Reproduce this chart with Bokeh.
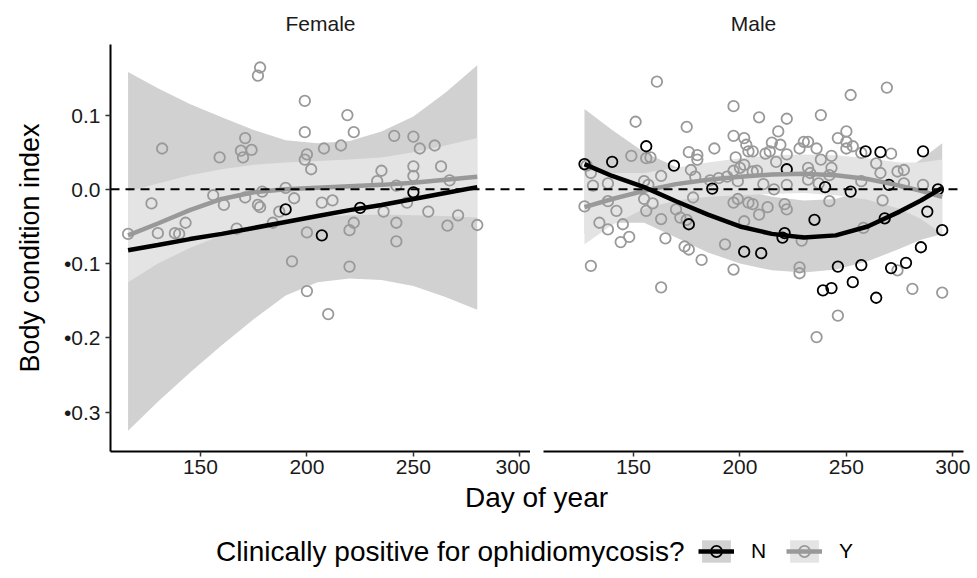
from bokeh.plotting import figure
from bokeh.models import Range1d, FixedTicker, Span, Label, Legend, LegendItem, ColumnDataSource
from bokeh.layouts import column, row
from bokeh.embed import file_html
from bokeh.resources import INLINE

# ---------------- data ----------------
# Female, clinically positive = N (black)
f_n_day = [190, 207, 225, 250]
f_n_bci = [-0.027, -0.062, -0.025, -0.004]
# Female, clinically positive = Y (grey)
f_y_day = [116, 127, 130, 132, 138, 140, 143, 156, 159, 161, 167, 169, 170, 171, 171, 174,
           177, 178, 177, 178, 179, 184, 187, 190, 193, 194, 199, 199, 199, 200, 200, 200,
           202, 207, 208, 210, 212, 216, 219, 220, 220, 222, 222, 233, 235, 236, 241, 242,
           242, 242, 247, 250, 250, 250, 253, 257, 260, 263, 266, 267, 271, 280]
f_y_bci = [-0.060, -0.019, -0.059, 0.055, -0.059, -0.060, -0.045, -0.008, 0.043, -0.021, -0.053,
           0.052, 0.043, 0.069, -0.011, 0.053, 0.153, 0.164, -0.021, -0.024, -0.003, -0.045,
           -0.030, 0.002, -0.097, -0.012, 0.119, 0.077, 0.040, 0.047, -0.058, -0.137, 0.027,
           -0.018, 0.055, -0.168, -0.015, 0.059, 0.100, -0.055, -0.104, 0.077, -0.045, 0.011,
           0.025, -0.030, 0.072, 0.005, -0.045, -0.070, -0.018, 0.071, 0.031, 0.018, 0.055,
           -0.030, 0.059, 0.031, -0.049, 0.012, -0.035, -0.048]

# Male, N (black)
m_n_day = [127, 140, 156, 169, 176, 187, 202, 210, 220, 221, 222, 235, 239, 240, 243, 246,
           252, 253, 257, 259, 264, 266, 268, 270, 271, 278, 285, 286, 288, 293, 295]
m_n_bci = [0.034, 0.037, 0.058, 0.032, -0.047, 0.001, -0.084, -0.086, -0.065, -0.059, 0.027,
           -0.041, -0.136, 0.003, -0.133, -0.104, -0.003, -0.125, -0.102, 0.051, -0.146, 0.050,
           -0.039, 0.006, -0.106, -0.099, -0.078, 0.051, -0.030, 0.000, -0.055]
# Male, Y (grey)
m_y_day = [161, 197, 151, 175, 197, 202, 203, 204, 188, 176, 180, 180, 149, 156, 158, 128,
           198, 202, 197, 200, 177, 163, 130, 179, 155, 157, 138, 131, 186, 190, 194, 199,
           178, 155, 159, 138, 127, 142, 156, 170, 172, 175, 163, 197, 199, 204, 202, 134,
           145, 138, 148, 144, 165, 174, 176, 193, 182, 130, 197, 163,
           269, 252, 209, 222, 238, 218, 215, 219, 206, 212, 214, 222, 230, 232, 228, 236,
           243, 238, 246, 250, 250, 250, 253, 257, 271, 217, 208, 206, 232, 233, 243, 242,
           264, 266, 274, 277, 211, 216, 222, 232, 237, 257, 277, 286, 242, 267, 206, 209,
           213, 221, 222, 258, 229, 274, 228, 228, 281, 295, 246, 236]
m_y_bci = [0.145, 0.112, 0.091, 0.084, 0.072, 0.069, 0.060, 0.051, 0.055, 0.050, 0.046, 0.040,
           0.045, 0.042, 0.043, 0.032, 0.043, 0.033, 0.025, 0.029, 0.026, 0.018, 0.022, 0.017,
           0.011, 0.006, 0.008, 0.005, 0.012, 0.015, 0.017, 0.011, -0.011, -0.013, -0.019,
           -0.016, -0.023, -0.029, -0.029, -0.027, -0.038, -0.041, -0.040, -0.018, -0.013,
           -0.018, -0.043, -0.045, -0.047, -0.054, -0.064, -0.071, -0.066, -0.077, -0.081,
           -0.074, -0.095, -0.103, -0.108, -0.132,
           0.137, 0.127, 0.097, 0.095, 0.100, 0.078, 0.063, 0.060, 0.051, 0.048, 0.051, 0.047,
           0.064, 0.064, 0.055, 0.055, 0.045, 0.040, 0.069, 0.078, 0.064, 0.055, 0.058, 0.049,
           0.048, 0.037, 0.025, 0.024, 0.029, 0.022, 0.029, 0.019, 0.035, 0.022, 0.024, 0.026,
           0.007, 0.000, 0.006, 0.013, 0.008, 0.011, 0.008, 0.006, -0.016, -0.015, -0.020,
           -0.034, -0.024, -0.020, -0.027, -0.052, -0.069, -0.109, -0.105, -0.113, -0.134,
           -0.139, -0.170, -0.199]

# Smoothed fits with confidence bands
sm_f_day = [116, 130, 145, 160, 175, 190, 205, 220, 235, 250, 265, 280]
sm_f_n_fit = [-0.082, -0.075, -0.067, -0.060, -0.052, -0.044, -0.036, -0.028, -0.021, -0.013, -0.005, 0.003]
sm_f_n_hi = [0.158, 0.136, 0.115, 0.097, 0.080, 0.066, 0.062, 0.065, 0.078, 0.098, 0.130, 0.167]
sm_f_n_lo = [-0.325, -0.286, -0.247, -0.210, -0.175, -0.143, -0.125, -0.120, -0.122, -0.130, -0.145, -0.162]
sm_f_y_fit = [-0.062, -0.046, -0.028, -0.013, -0.004, 0.000, 0.002, 0.004, 0.006, 0.009, 0.013, 0.017]
sm_f_y_hi = [-0.003, 0.008, 0.019, 0.027, 0.033, 0.036, 0.038, 0.040, 0.043, 0.050, 0.059, 0.069]
sm_f_y_lo = [-0.125, -0.100, -0.079, -0.062, -0.050, -0.042, -0.037, -0.035, -0.034, -0.035, -0.036, -0.038]

sm_m_day = [127, 140, 155, 170, 185, 200, 215, 230, 245, 260, 275, 285, 295]
sm_m_n_fit = [0.034, 0.018, 0.003, -0.016, -0.034, -0.050, -0.060, -0.065, -0.062, -0.050, -0.030, -0.015, 0.002]
sm_m_n_hi = [0.108, 0.080, 0.050, 0.030, 0.013, 0.000, -0.010, -0.015, -0.013, 0.000, 0.022, 0.040, 0.062]
sm_m_n_lo = [-0.060, -0.045, -0.045, -0.065, -0.085, -0.100, -0.109, -0.112, -0.108, -0.097, -0.080, -0.068, -0.060]
sm_m_y_fit = [-0.024, -0.013, -0.002, 0.007, 0.013, 0.017, 0.020, 0.021, 0.019, 0.014, 0.005, -0.002, -0.010]
sm_m_y_hi = [0.026, 0.022, 0.022, 0.029, 0.036, 0.042, 0.046, 0.047, 0.046, 0.042, 0.036, 0.036, 0.040]
sm_m_y_lo = [-0.074, -0.048, -0.026, -0.015, -0.010, -0.008, -0.006, -0.005, -0.008, -0.014, -0.026, -0.040, -0.060]

x_ticks = [150, 200, 250, 300]
y_ticks = [0.1, 0.0, -0.1, -0.2, -0.3]
y_tick_labels = ["0.1", "0.0", "\u20220.1", "\u20220.2", "\u20220.3"]
panels = ["Female", "Male"]
groups = ["N", "Y"]

# ---------------- styling ----------------
FONT = "Liberation Sans"
N_RIB = "#d1d1d1"
Y_RIB = "#e4e4e4"
GREY = "#999999"
X_RANGE = (107.75, 305.0)
Y_RANGE = (-0.353, 0.195)
TOP_H = 483
PT_SIZE = 10.5


def make_panel(title, width, left, right):
    p = figure(width=width, height=TOP_H, x_range=Range1d(*X_RANGE), y_range=Range1d(*Y_RANGE),
               output_backend="svg", toolbar_location=None, title=title,
               min_border_left=left, min_border_right=right, min_border_top=43,
               min_border_bottom=32)
    p.title.align = "center"
    p.title.text_font = FONT
    p.title.text_font_size = "21px"
    p.title.text_font_style = "normal"
    p.title.text_color = "#1a1a1a"
    p.title.standoff = 19
    p.xgrid.visible = False
    p.ygrid.visible = False
    p.outline_line_color = None
    p.background_fill_color = "white"
    p.border_fill_color = "white"
    for ax in (p.xaxis[0], p.yaxis[0]):
        ax.axis_line_color = "black"
        ax.axis_line_width = 2
        ax.major_tick_line_color = "#333333"
        ax.major_tick_line_width = 1.5
        ax.major_tick_in = 0
        ax.major_tick_out = 5
        ax.minor_tick_line_color = None
        ax.major_label_text_font = FONT
        ax.major_label_text_font_size = "21px"
        ax.major_label_text_color = "#1a1a1a"
    p.xaxis.ticker = FixedTicker(ticks=x_ticks)
    p.xaxis.major_label_standoff = 3
    p.yaxis.ticker = FixedTicker(ticks=y_ticks)
    p.yaxis.major_label_overrides = {t: l for t, l in zip(y_ticks, y_tick_labels)}
    p.yaxis.major_label_standoff = 5
    return p


def draw(p, sd, n_fit, n_lo, n_hi, y_fit, y_lo, y_hi, nd, nv, yd, yv):
    p.varea(x=sd, y1=n_lo, y2=n_hi, fill_color=N_RIB, fill_alpha=1)
    p.varea(x=sd, y1=y_lo, y2=y_hi, fill_color=Y_RIB, fill_alpha=1)
    p.add_layout(Span(location=0, dimension="width", line_color="black",
                      line_width=2, line_dash="9 6"))
    p.scatter(yd, yv, marker="circle", size=PT_SIZE, fill_color=None, line_color=GREY, line_width=1.8)
    p.scatter(nd, nv, marker="circle", size=PT_SIZE, fill_color=None, line_color="black", line_width=1.8)
    p.line(sd, y_fit, line_color=GREY, line_width=4.5)
    p.line(sd, n_fit, line_color="black", line_width=4.5)


pF = make_panel(panels[0], 530, 110, 0)
draw(pF, sm_f_day, sm_f_n_fit, sm_f_n_lo, sm_f_n_hi, sm_f_y_fit, sm_f_y_lo, sm_f_y_hi,
     f_n_day, f_n_bci, f_y_day, f_y_bci)
pF.yaxis.axis_label = "Body condition index"
pF.yaxis.axis_label_text_font = FONT
pF.yaxis.axis_label_text_font_size = "27px"
pF.yaxis.axis_label_text_font_style = "normal"
pF.yaxis.axis_label_text_color = "black"
pF.yaxis.axis_label_standoff = 16

pM = make_panel(panels[1], 447, 13, 14)
draw(pM, sm_m_day, sm_m_n_fit, sm_m_n_lo, sm_m_n_hi, sm_m_y_fit, sm_m_y_lo, sm_m_y_hi,
     m_n_day, m_n_bci, m_y_day, m_y_bci)
pM.yaxis.visible = False

# ---------------- bottom strip: shared x title + legend ----------------
BOT_H = 578 - TOP_H
pB = figure(width=977, height=BOT_H, x_range=Range1d(0, 977), y_range=Range1d(0, BOT_H),
            output_backend="svg", toolbar_location=None, x_axis_type=None, y_axis_type=None,
            min_border_left=0, min_border_right=0, min_border_top=0, min_border_bottom=0)
pB.xgrid.visible = False
pB.ygrid.visible = False
pB.outline_line_color = None

pB.add_layout(Label(x=536, y=BOT_H - 14, text="Day of year", text_align="center",
                    text_baseline="middle", text_font=FONT, text_font_size="28px",
                    text_color="black"))
pB.add_layout(Label(x=684, y=27, text="Clinically positive for ophidiomycosis?",
                    text_align="right", text_baseline="middle", text_font=FONT,
                    text_font_size="28px", text_color="black"))

# legend key renderers: their single point lies outside the visible range, they only feed the legend
items = []
for g, lc, fc in zip(groups, ["black", GREY], [N_RIB, Y_RIB]):
    ra = pB.varea(x="x", y1="y1", y2="y2",
                  source=ColumnDataSource(dict(x=[-60, -50], y1=[-60, -60], y2=[-50, -50])),
                  fill_color=fc, fill_alpha=1)
    rl = pB.line(x="x", y="y", source=ColumnDataSource(dict(x=[-60, -50], y=[-60, -60])),
                 line_color=lc, line_width=4.5)
    rs = pB.scatter(x="x", y="y", source=ColumnDataSource(dict(x=[-60], y=[-60])), marker="circle",
                    size=PT_SIZE, fill_color=None, line_color=lc, line_width=1.8)
    items.append(LegendItem(label=g, renderers=[ra, rl, rs]))

leg = Legend(items=items, orientation="horizontal", location=(698, 13),
             glyph_width=36, glyph_height=28, label_standoff=17, spacing=15,
             padding=0, margin=0, border_line_color=None, background_fill_alpha=0,
             label_text_font=FONT, label_text_font_size="21px", label_text_color="black",
             label_height=28)
pB.add_layout(leg)

layout = column(row(pF, pM), pB)
open("out.html", "w").write(file_html(layout, INLINE))
